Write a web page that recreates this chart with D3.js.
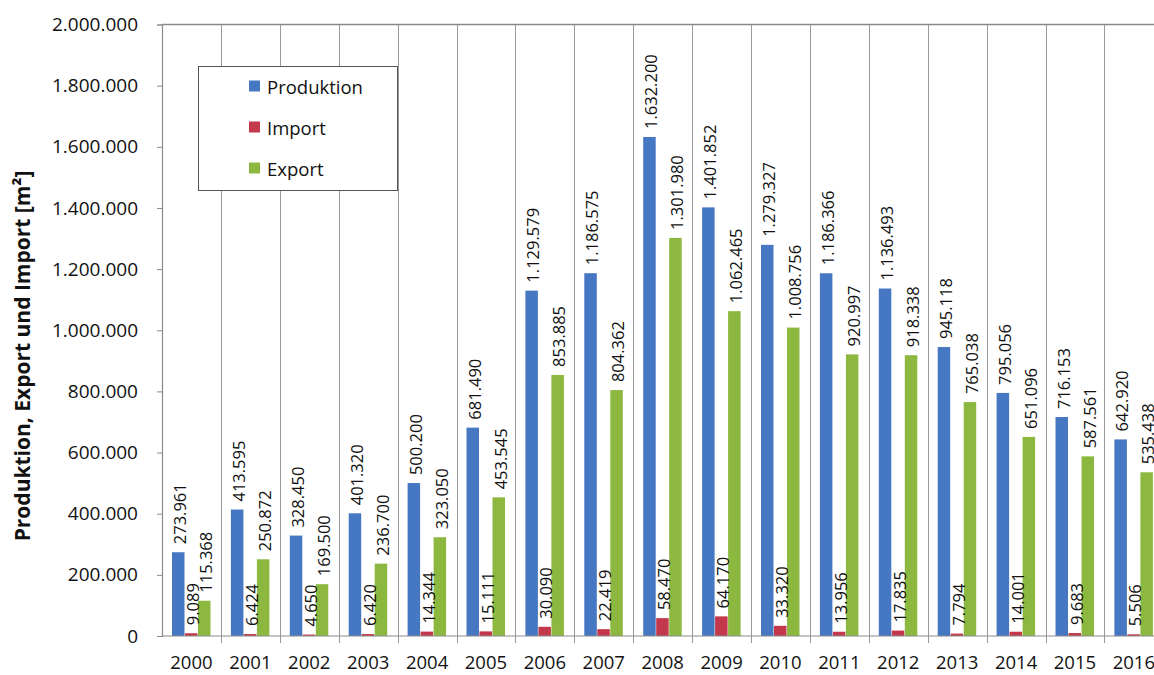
<!DOCTYPE html>
<html><head><meta charset="utf-8">
<script src="https://cdn.jsdelivr.net/npm/d3@7"></script>
<style>
html,body{margin:0;padding:0;background:#fff;overflow:hidden}
svg{display:block}
text{font-family:"Open Sans","Noto Sans",sans-serif;fill:#111}
</style></head>
<body>
<svg id="chart" width="1154" height="675"></svg>
<script>
const years = ["2000","2001","2002","2003","2004","2005","2006","2007","2008","2009","2010","2011","2012","2013","2014","2015","2016"];
const seriesNames = ["Produktion","Import","Export"];
const produktion = [273961,413595,328450,401320,500200,681490,1129579,1186575,1632200,1401852,1279327,1186366,1136493,945118,795056,716153,642920];
const importVals = [9089,6424,4650,6420,14344,15111,30090,22419,58470,64170,33320,13956,17835,7794,14001,9683,5506];
const exportVals = [115368,250872,169500,236700,323050,453545,853885,804362,1301980,1062465,1008756,920997,918338,765038,651096,587561,535438];
const yTicks = [0,200000,400000,600000,800000,1000000,1200000,1400000,1600000,1800000,2000000];
const colors = ["#4677C2","#C3384B","#8DB840"];
const yTitle = "Produktion, Export und Import [m²]";

const svg = d3.select("#chart");
const pLeft = 162, pTop = 24.5, pBottom = 636, bandW = 58.9;
const pRight = pLeft + bandW * years.length;

const loc = d3.formatLocale({decimal:",", thousands:".", grouping:[3], currency:["","€"]});
const fmt = loc.format(",d");

const x = d3.scaleBand().domain(years).range([pLeft, pRight]).paddingInner(0).paddingOuter(0);
const xs = d3.scaleBand().domain(seriesNames).range([10, 49]).padding(0);
const y = d3.scaleLinear().domain([0, 2000000]).range([pBottom, pTop]);

const data = years.map((yr, i) => ({year: yr, vals: [produktion[i], importVals[i], exportVals[i]]}));

// vertical gridlines at category boundaries
const bounds = years.map(yr => x(yr)).concat([pRight]);
svg.append("g").selectAll("line").data(bounds.slice(1)).join("line")
  .attr("x1", d => Math.round(d) + 0.5).attr("x2", d => Math.round(d) + 0.5)
  .attr("y1", pTop).attr("y2", pBottom + 7)
  .attr("stroke", "#9a9a9a").attr("stroke-width", 1);

// top border
svg.append("line").attr("x1", pLeft).attr("x2", 1154).attr("y1", pTop).attr("y2", pTop)
  .attr("stroke", "#8a8a8a").attr("stroke-width", 1.5);

// bars
const groups = svg.append("g").selectAll("g").data(data).join("g")
  .attr("transform", d => `translate(${x(d.year)},0)`);
groups.selectAll("rect").data(d => d.vals.map((v, j) => ({v, s: seriesNames[j], j}))).join("rect")
  .attr("x", d => xs(d.s)).attr("width", xs.bandwidth() - 0.5)
  .attr("y", d => y(d.v)).attr("height", d => pBottom - y(d.v))
  .attr("fill", d => colors[d.j]);

// value labels
groups.selectAll("text").data(d => d.vals.map((v, j) => ({v, s: seriesNames[j], j}))).join("text")
  .attr("transform", d => `translate(${xs(d.s) + xs.bandwidth()/2 + 1},${y(d.v) - 8}) rotate(-90)`)
  .attr("dominant-baseline", "central")
  .attr("text-anchor", "start")
  .style("font-size", "16.5px")
  .text(d => fmt(d.v));

// y axis
const yAxis = d3.axisLeft(y).tickValues(yTicks).tickFormat(fmt).tickSize(5).tickPadding(19);
const ya = svg.append("g").attr("transform", `translate(${pLeft},0)`).call(yAxis);
ya.select(".domain").attr("stroke", "#8a8a8a").attr("stroke-width", 1.2);
ya.selectAll(".tick line").attr("stroke", "#8a8a8a");
ya.selectAll(".tick text").style("font-size", "19px").style("font-family", "'Open Sans',sans-serif").attr("fill", "#111");

// x axis
const xAxis = d3.axisBottom(x).tickSize(0).tickPadding(0);
const xa = svg.append("g").attr("transform", `translate(0,${pBottom})`).call(xAxis);
xa.select(".domain").remove();
xa.append("line").attr("x1", pLeft).attr("x2", 1154).attr("y1", 0).attr("y2", 0)
  .attr("stroke", "#8a8a8a").attr("stroke-width", 1.2);
xa.selectAll(".tick text").attr("y", 27).attr("dy", "0.35em")
  .style("font-size", "18.5px").style("font-family", "'Open Sans',sans-serif").attr("fill", "#111");

// y title
svg.append("text")
  .attr("transform", `translate(22,356) rotate(-90)`)
  .attr("text-anchor", "middle").attr("dominant-baseline", "central")
  .style("font-size", "21px").style("font-weight", "bold")
  .text(yTitle);

// legend
const lg = svg.append("g");
lg.append("rect").attr("x", 198.5).attr("y", 66.5).attr("width", 199).attr("height", 124)
  .attr("fill", "#fff").attr("stroke", "#555").attr("stroke-width", 1);
const rows = lg.selectAll("g").data(seriesNames).join("g")
  .attr("transform", (d, i) => `translate(249,${86 + i * 41})`);
rows.append("rect").attr("x", 0).attr("y", -5.5).attr("width", 11).attr("height", 11)
  .attr("fill", (d, i) => colors[i]);
rows.append("text").attr("x", 18).attr("y", 0).attr("dominant-baseline", "central")
  .style("font-size", "18.5px").text(d => d);
</script>
</body></html>
